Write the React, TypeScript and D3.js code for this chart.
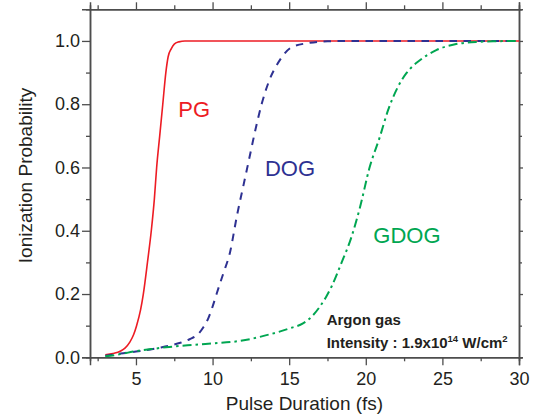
import * as d3 from 'd3'
import { useEffect, useRef } from 'react'

const width = 540, height = 420
const margin = { top: 9.3, right: 21, bottom: 62.7, left: 90 }

// PG (red, solid)
const pgX = [3, 3.5, 4, 4.3, 4.6, 4.85, 5.04, 5.3, 5.48, 5.75, 6.0, 6.2, 6.35, 6.55, 6.75, 6.95, 7.1, 7.3, 7.5, 7.8, 8.2, 9, 30]
const pgY = [0.008, 0.012, 0.02, 0.03, 0.048, 0.072, 0.1, 0.15, 0.2, 0.3, 0.4, 0.5, 0.6, 0.7, 0.8, 0.9, 0.95, 0.975, 0.99, 0.997, 1, 1, 1]

// DOG (blue, dashed)
const dogX = [3, 4, 5, 5.7, 6.5, 7.3, 7.9, 8.5, 9.07, 9.4, 9.72, 10.0, 10.26, 10.7, 11.13, 11.6, 12.0, 12.4, 12.8, 13.2, 13.7, 14.4, 15.16, 16.35, 17.5, 19, 30]
const dogY = [0.005, 0.012, 0.018, 0.023, 0.03, 0.038, 0.046, 0.057, 0.074, 0.095, 0.123, 0.16, 0.2, 0.265, 0.33, 0.45, 0.54, 0.63, 0.72, 0.8, 0.875, 0.94, 0.98, 0.994, 0.999, 1, 1]

// GDOG (green, dash-dot)
const gdogX = [3, 4, 4.82, 6, 7.43, 8.7, 10.04, 11.35, 12.5, 13.52, 14.3, 15.05, 15.9, 16.5, 17.0, 17.4, 17.76, 18.4, 19.07, 19.6, 20.26, 20.92, 21.46, 22.1, 22.65, 23.53, 24.6, 25.9, 27.2, 28.5, 30]
const gdogY = [0.003, 0.01, 0.018, 0.026, 0.034, 0.039, 0.044, 0.049, 0.058, 0.07, 0.08, 0.092, 0.107, 0.13, 0.16, 0.19, 0.223, 0.297, 0.381, 0.47, 0.602, 0.697, 0.782, 0.855, 0.898, 0.939, 0.971, 0.99, 0.997, 0.999, 1.0]

const xMajor = [5, 10, 15, 20, 25, 30]
const xMinor = [2.5, 7.5, 12.5, 17.5, 22.5, 27.5]
const yMajor = [0, 0.2, 0.4, 0.6, 0.8, 1.0]
const yMinor = [0.1, 0.3, 0.5, 0.7, 0.9]

const font = '"Liberation Sans", Arial, sans-serif'
const axisColor = '#4d4d4d'
const textColor = '#231f20'

const series = [
  { name: 'PG', xs: pgX, ys: pgY, color: '#ed1c24', dash: null, width: 1.6, lx: 7.76, ly: 0.7585 },
  { name: 'DOG', xs: dogX, ys: dogY, color: '#2e3192', dash: '7.5,6.5', width: 2, lx: 13.42, ly: 0.573 },
  { name: 'GDOG', xs: gdogX, ys: gdogY, color: '#00a651', dash: '9,4,2.5,4', width: 2, lx: 20.49, ly: 0.36 },
]

const chart = (svgNode) => {
  const svg = d3.select(svgNode)
  svg.selectAll('*').remove()

  const x = d3.scaleLinear().domain([2, 30]).range([margin.left, width - margin.right])
  const y = d3.scaleLinear().domain([0, 1.1]).range([height - margin.bottom, margin.top])

  const styleAxis = (g) => {
    g.select('.domain').attr('stroke', axisColor).attr('stroke-width', 1.5)
    g.selectAll('.tick line').attr('stroke', axisColor).attr('stroke-width', 1.3)
    g.selectAll('text')
      .attr('fill', textColor)
      .attr('font-family', font)
      .attr('font-size', 18)
  }

  const bottom = height - margin.bottom
  const right = width - margin.right

  // minor ticks first
  svg.append('g').attr('transform', `translate(0,${bottom})`)
    .call(d3.axisBottom(x).tickValues(xMinor).tickSize(4).tickFormat(() => ''))
    .call(styleAxis)
  svg.append('g').attr('transform', `translate(0,${margin.top})`)
    .call(d3.axisTop(x).tickValues(xMinor).tickSize(4).tickFormat(() => ''))
    .call(styleAxis)
  svg.append('g').attr('transform', `translate(${margin.left},0)`)
    .call(d3.axisLeft(y).tickValues(yMinor).tickSize(4).tickFormat(() => ''))
    .call(styleAxis)
  svg.append('g').attr('transform', `translate(${right},0)`)
    .call(d3.axisRight(y).tickValues(yMinor).tickSize(3).tickFormat(() => ''))
    .call(styleAxis)

  // major ticks
  svg.append('g').attr('transform', `translate(0,${bottom})`)
    .call(d3.axisBottom(x).tickValues(xMajor).tickSize(8).tickPadding(7).tickFormat(d3.format('d')))
    .call(styleAxis)
  svg.append('g').attr('transform', `translate(0,${margin.top})`)
    .call(d3.axisTop(x).tickValues(xMajor).tickSize(7).tickFormat(() => ''))
    .call(styleAxis)
  svg.append('g').attr('transform', `translate(${margin.left},0)`)
    .call(d3.axisLeft(y).tickValues(yMajor).tickSize(8).tickPadding(2).tickFormat(d3.format('.1f')))
    .call(styleAxis)
  svg.append('g').attr('transform', `translate(${right},0)`)
    .call(d3.axisRight(y).tickValues(yMajor).tickSize(4).tickFormat(() => ''))
    .call(styleAxis)

  // curves
  const line = d3.line()
    .x(d => x(d[0]))
    .y(d => y(d[1]))
    .curve(d3.curveMonotoneX)

  series.forEach(s => {
    svg.append('path')
      .datum(s.xs.map((v, i) => [v, s.ys[i]]))
      .attr('fill', 'none')
      .attr('stroke', s.color)
      .attr('stroke-width', s.width)
      .attr('stroke-dasharray', s.dash)
      .attr('d', line)
  })

  // curve labels
  series.forEach(s => {
    svg.append('text')
      .attr('x', x(s.lx))
      .attr('y', y(s.ly))
      .attr('fill', s.color)
      .attr('font-family', font)
      .attr('font-size', 22)
      .text(s.name)
  })

  // axis titles
  svg.append('text')
    .attr('x', (margin.left + right) / 2)
    .attr('y', 410)
    .attr('text-anchor', 'middle')
    .attr('fill', textColor)
    .attr('font-family', font)
    .attr('font-size', 19)
    .text('Pulse Duration (fs)')

  svg.append('text')
    .attr('transform', `translate(32,175.5) rotate(-90)`)
    .attr('text-anchor', 'middle')
    .attr('fill', textColor)
    .attr('font-family', font)
    .attr('font-size', 19)
    .text('Ionization Probability')

  // annotation
  svg.append('text')
    .attr('x', 326.7)
    .attr('y', 325)
    .attr('fill', textColor)
    .attr('font-family', font)
    .attr('font-weight', 'bold')
    .attr('font-size', 15)
    .text('Argon gas')

  const t = svg.append('text')
    .attr('x', 326.7)
    .attr('y', 348.3)
    .attr('fill', textColor)
    .attr('font-family', font)
    .attr('font-weight', 'bold')
    .attr('font-size', 15)
  t.append('tspan').text('Intensity : 1.9x10')
  t.append('tspan').attr('dy', -6).attr('font-size', 9.5).text('14')
  t.append('tspan').attr('dy', 6).text(' W/cm')
  t.append('tspan').attr('dy', -6).attr('font-size', 9.5).text('2')

  return svg.node()
}

export default function App() {
  const svg = useRef(null)
  useEffect(() => {
    if (svg.current) chart(svg.current)
  }, [])
  return (
    <svg
      ref={svg}
      width={width}
      height={height}
      style={{ position: 'absolute', left: 0, top: 0, background: '#fff' }}
    />
  )
}
